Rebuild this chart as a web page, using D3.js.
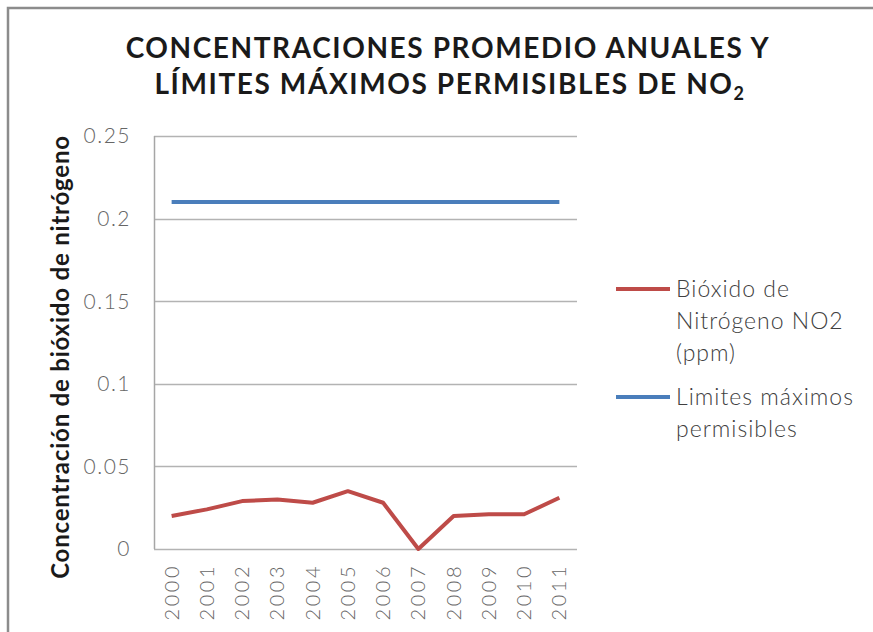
<!DOCTYPE html>
<html>
<head>
<meta charset="utf-8">
<script src="https://cdn.jsdelivr.net/npm/d3@7"></script>
<style>
  body { margin: 0; background: #fff; }
  svg { display: block; }
</style>
</head>
<body>
<div id="chart"></div>
<script>
// data
var years = ["2000", "2001", "2002", "2003", "2004", "2005", "2006", "2007", "2008", "2009", "2010", "2011"];
var no2 = [0.020, 0.024, 0.029, 0.030, 0.028, 0.035, 0.028, 0.000, 0.020, 0.021, 0.021, 0.031];
var limite = [0.21, 0.21, 0.21, 0.21, 0.21, 0.21, 0.21, 0.21, 0.21, 0.21, 0.21, 0.21];
var yTicks = [0, 0.05, 0.1, 0.15, 0.2, 0.25];
var seriesNames = [["Bióxido de", "Nitrógeno NO2", "(ppm)"], ["Limites máximos", "permisibles"]];
var seriesColors = ["#be4b48", "#4a7ebb"];

var width = 873, height = 632;
var margin = {top: 136, left: 154, right: 296, bottom: 83};

var svg = d3.select("#chart").append("svg")
    .attr("width", width)
    .attr("height", height);

// outer chart frame (runs off the right and bottom edge)
svg.append("path")
    .attr("d", "M8,640 L8,8 L880,8")
    .attr("fill", "none")
    .attr("stroke", "#8c8c8c")
    .attr("stroke-width", 2.5);

var x = d3.scaleBand()
    .domain(years)
    .range([margin.left, width - margin.right]);

var y = d3.scaleLinear()
    .domain([0, 0.25])
    .range([height - margin.bottom, margin.top]);

// gridlines
svg.append("g")
    .selectAll("line")
    .data(yTicks)
    .join("line")
    .attr("x1", margin.left)
    .attr("x2", width - margin.right)
    .attr("y1", function(d) { return Math.round(y(d)) + 0.5; })
    .attr("y2", function(d) { return Math.round(y(d)) + 0.5; })
    .attr("stroke", "#b3b3b3")
    .attr("stroke-width", 1.5);

// left axis line
svg.append("line")
    .attr("x1", margin.left + 0.5).attr("x2", margin.left + 0.5)
    .attr("y1", y(0.25)).attr("y2", y(0))
    .attr("stroke", "#a6a6a6")
    .attr("stroke-width", 1.5);

// y tick labels
svg.append("g")
    .selectAll("text")
    .data(yTicks)
    .join("text")
    .attr("x", 131)
    .attr("y", function(d) { return y(d); })
    .attr("dy", "0.35em")
    .attr("text-anchor", "end")
    .attr("fill", "#666666")
    .style("font", "300 21px Lato, 'Open Sans', sans-serif")
    .style("letter-spacing", "1.5px")
    .text(function(d) { return d; });

// x tick labels, rotated
svg.append("g")
    .selectAll("text")
    .data(years)
    .join("text")
    .attr("transform", function(d) {
        return "translate(" + (x(d) + x.bandwidth() / 2) + "," + 564 + ") rotate(-90)";
    })
    .attr("dy", "0.35em")
    .attr("text-anchor", "end")
    .attr("fill", "#666666")
    .style("font", "300 20px Lato, 'Open Sans', sans-serif")
    .style("letter-spacing", "2.5px")
    .text(function(d) { return d; });

// y axis title
svg.append("text")
    .attr("transform", "translate(69," + 357 + ") rotate(-90)")
    .attr("text-anchor", "middle")
    .attr("fill", "#1a1a1a")
    .style("font", "bold 24px Lato, sans-serif")
    .style("letter-spacing", "0.8px")
    .text("Concentración de bióxido de nitrógeno");

// title
var title = svg.append("text")
    .attr("text-anchor", "middle")
    .attr("fill", "#1a1a1a")
    .style("font", "bold 28px Lato, sans-serif")
    .style("letter-spacing", "1.6px");
title.append("tspan").attr("x", 448).attr("y", 58).text("CONCENTRACIONES PROMEDIO ANUALES Y");
var l2 = title.append("tspan").attr("x", 450).attr("y", 94).text("LÍMITES MÁXIMOS PERMISIBLES DE NO");
l2.append("tspan").attr("dy", 6).style("font-size", "18px").text("2");

// lines
var line = d3.line()
    .x(function(d, i) { return x(years[i]) + x.bandwidth() / 2; })
    .y(function(d) { return y(d); });

svg.append("path")
    .datum(limite)
    .attr("d", line)
    .attr("fill", "none")
    .attr("stroke", seriesColors[1])
    .attr("stroke-width", 4);

svg.append("path")
    .datum(no2)
    .attr("d", line)
    .attr("fill", "none")
    .attr("stroke", seriesColors[0])
    .attr("stroke-width", 4)
    .attr("stroke-linejoin", "round");

// legend
var legendY = [289, 397];
var legend = svg.append("g")
    .selectAll("g")
    .data(seriesNames)
    .join("g")
    .attr("transform", function(d, i) { return "translate(616," + legendY[i] + ")"; });

legend.append("line")
    .attr("x1", 0).attr("x2", 54)
    .attr("stroke", function(d, i) { return seriesColors[i]; })
    .attr("stroke-width", 4);

legend.append("text")
    .attr("fill", "#404040")
    .style("font", "300 23px Lato, 'Open Sans', sans-serif")
    .style("letter-spacing", "1px")
    .selectAll("tspan")
    .data(function(d) { return d; })
    .join("tspan")
    .attr("x", 60)
    .attr("y", function(d, i) { return i * 32; })
    .attr("dy", "0.35em")
    .text(function(d) { return d; });
</script>
</body>
</html>
